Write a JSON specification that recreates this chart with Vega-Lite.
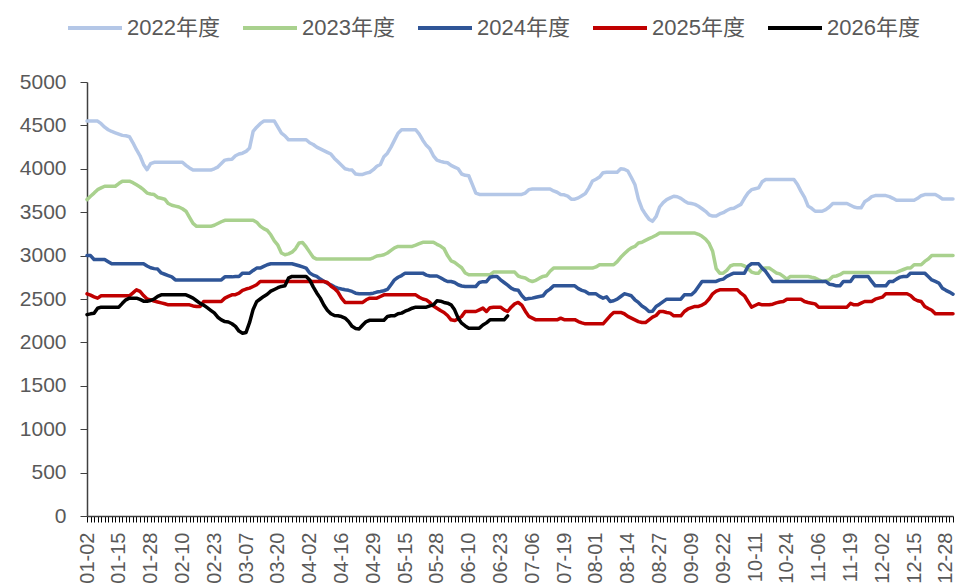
{
"$schema": "https://vega.github.io/schema/vega-lite/v6.json",
"width": 866, "height": 434,
"autosize": "none",
"padding": {"left": 87, "top": 82, "right": 7, "bottom": 71},
"background": "white",
"config": {"view": {"stroke": null}, "font": "Liberation Sans"},
"data": {"values": [
{"d":"01-02","2022年度":4550,"2023年度":3645,"2024年度":3000,"2025年度":2560,"2026年度":2320},
{"d":"01-03","2022年度":4550,"2023年度":3684,"2024年度":3000,"2025年度":2545,"2026年度":2329},
{"d":"01-06","2022年度":4550,"2023年度":3720,"2024年度":2955,"2025年度":2525,"2026年度":2335},
{"d":"01-07","2022年度":4550,"2023年度":3760,"2024年度":2955,"2025年度":2510,"2026年度":2394},
{"d":"01-08","2022年度":4520,"2023年度":3780,"2024年度":2955,"2025年度":2537,"2026年度":2406},
{"d":"01-09","2022年度":4480,"2023年度":3799,"2024年度":2955,"2025年度":2537,"2026年度":2406},
{"d":"01-10","2022年度":4450,"2023年度":3799,"2024年度":2930,"2025年度":2537,"2026年度":2406},
{"d":"01-13","2022年度":4430,"2023年度":3799,"2024年度":2905,"2025年度":2537,"2026年度":2406},
{"d":"01-14","2022年度":4415,"2023年度":3799,"2024年度":2905,"2025年度":2537,"2026年度":2406},
{"d":"01-15","2022年度":4400,"2023年度":3830,"2024年度":2905,"2025年度":2537,"2026年度":2406},
{"d":"01-16","2022年度":4385,"2023年度":3857,"2024年度":2905,"2025年度":2537,"2026年度":2450},
{"d":"01-17","2022年度":4380,"2023年度":3857,"2024年度":2905,"2025年度":2537,"2026年度":2490},
{"d":"01-20","2022年度":4370,"2023年度":3857,"2024年度":2905,"2025年度":2537,"2026年度":2510},
{"d":"01-21","2022年度":4300,"2023年度":3840,"2024年度":2905,"2025年度":2570,"2026年度":2510},
{"d":"01-22","2022年度":4220,"2023年度":3815,"2024年度":2905,"2025年度":2606,"2026年度":2510},
{"d":"01-23","2022年度":4150,"2023年度":3790,"2024年度":2905,"2025年度":2587,"2026年度":2495},
{"d":"01-24","2022年度":4050,"2023年度":3760,"2024年度":2905,"2025年度":2540,"2026年度":2475},
{"d":"01-27","2022年度":3990,"2023年度":3720,"2024年度":2880,"2025年度":2500,"2026年度":2475},
{"d":"01-28","2022年度":4060,"2023年度":3710,"2024年度":2860,"2025年度":2490,"2026年度":2483},
{"d":"01-29","2022年度":4075,"2023年度":3703,"2024年度":2850,"2025年度":2475,"2026年度":2500},
{"d":"01-30","2022年度":4075,"2023年度":3670,"2024年度":2845,"2025年度":2465,"2026年度":2530},
{"d":"01-31","2022年度":4075,"2023年度":3660,"2024年度":2800,"2025年度":2455,"2026年度":2548},
{"d":"02-03","2022年度":4075,"2023年度":3650,"2024年度":2785,"2025年度":2445,"2026年度":2548},
{"d":"02-04","2022年度":4075,"2023年度":3600,"2024年度":2770,"2025年度":2433,"2026年度":2548},
{"d":"02-05","2022年度":4075,"2023年度":3580,"2024年度":2755,"2025年度":2433,"2026年度":2548},
{"d":"02-06","2022年度":4075,"2023年度":3570,"2024年度":2720,"2025年度":2433,"2026年度":2548},
{"d":"02-07","2022年度":4075,"2023年度":3560,"2024年度":2720,"2025年度":2433,"2026年度":2548},
{"d":"02-10","2022年度":4075,"2023年度":3540,"2024年度":2720,"2025年度":2433,"2026年度":2548},
{"d":"02-11","2022年度":4040,"2023年度":3511,"2024年度":2720,"2025年度":2433,"2026年度":2548},
{"d":"02-12","2022年度":4010,"2023年度":3440,"2024年度":2720,"2025年度":2433,"2026年度":2530},
{"d":"02-13","2022年度":3985,"2023年度":3370,"2024年度":2720,"2025年度":2420,"2026年度":2510},
{"d":"02-14","2022年度":3985,"2023年度":3337,"2024年度":2720,"2025年度":2414,"2026年度":2480},
{"d":"02-17","2022年度":3985,"2023年度":3337,"2024年度":2720,"2025年度":2414,"2026年度":2450},
{"d":"02-18","2022年度":3985,"2023年度":3337,"2024年度":2720,"2025年度":2471,"2026年度":2430},
{"d":"02-19","2022年度":3985,"2023年度":3337,"2024年度":2720,"2025年度":2471,"2026年度":2400},
{"d":"02-20","2022年度":3985,"2023年度":3337,"2024年度":2720,"2025年度":2471,"2026年度":2370},
{"d":"02-23","2022年度":4000,"2023年度":3350,"2024年度":2720,"2025年度":2471,"2026年度":2340},
{"d":"02-24","2022年度":4020,"2023年度":3370,"2024年度":2720,"2025年度":2471,"2026年度":2290},
{"d":"02-25","2022年度":4060,"2023年度":3390,"2024年度":2720,"2025年度":2471,"2026年度":2260},
{"d":"02-26","2022年度":4100,"2023年度":3407,"2024年度":2755,"2025年度":2510,"2026年度":2240},
{"d":"02-27","2022年度":4107,"2023年度":3407,"2024年度":2755,"2025年度":2530,"2026年度":2235},
{"d":"02-28","2022年度":4110,"2023年度":3407,"2024年度":2755,"2025年度":2548,"2026年度":2215},
{"d":"03-03","2022年度":4150,"2023年度":3407,"2024年度":2760,"2025年度":2550,"2026年度":2185},
{"d":"03-04","2022年度":4170,"2023年度":3407,"2024年度":2760,"2025年度":2567,"2026年度":2130},
{"d":"03-05","2022年度":4180,"2023年度":3407,"2024年度":2798,"2025年度":2600,"2026年度":2106},
{"d":"03-07","2022年度":4200,"2023年度":3407,"2024年度":2798,"2025年度":2615,"2026年度":2115},
{"d":"03-10","2022年度":4240,"2023年度":3407,"2024年度":2798,"2025年度":2625,"2026年度":2230},
{"d":"03-11","2022年度":4430,"2023年度":3407,"2024年度":2829,"2025年度":2644,"2026年度":2380},
{"d":"03-12","2022年度":4480,"2023年度":3385,"2024年度":2856,"2025年度":2664,"2026年度":2470},
{"d":"03-13","2022年度":4520,"2023年度":3340,"2024年度":2856,"2025年度":2702,"2026年度":2500},
{"d":"03-14","2022年度":4550,"2023年度":3310,"2024年度":2875,"2025年度":2702,"2026年度":2530},
{"d":"03-17","2022年度":4550,"2023年度":3290,"2024年度":2895,"2025年度":2702,"2026年度":2555},
{"d":"03-18","2022年度":4550,"2023年度":3240,"2024年度":2906,"2025年度":2702,"2026年度":2590},
{"d":"03-19","2022年度":4550,"2023年度":3170,"2024年度":2906,"2025年度":2702,"2026年度":2610},
{"d":"03-20","2022年度":4480,"2023年度":3120,"2024年度":2906,"2025年度":2702,"2026年度":2630},
{"d":"03-21","2022年度":4410,"2023年度":3030,"2024年度":2906,"2025年度":2702,"2026年度":2645},
{"d":"03-24","2022年度":4380,"2023年度":3010,"2024年度":2906,"2025年度":2702,"2026年度":2652},
{"d":"03-25","2022年度":4335,"2023年度":3020,"2024年度":2906,"2025年度":2702,"2026年度":2740},
{"d":"03-26","2022年度":4335,"2023年度":3040,"2024年度":2906,"2025年度":2702,"2026年度":2760},
{"d":"03-27","2022年度":4335,"2023年度":3080,"2024年度":2895,"2025年度":2702,"2026年度":2760},
{"d":"03-28","2022年度":4335,"2023年度":3145,"2024年度":2883,"2025年度":2702,"2026年度":2760},
{"d":"03-31","2022年度":4335,"2023年度":3150,"2024年度":2870,"2025年度":2702,"2026年度":2760},
{"d":"04-01","2022年度":4335,"2023年度":3100,"2024年度":2856,"2025年度":2702,"2026年度":2760},
{"d":"04-02","2022年度":4300,"2023年度":3040,"2024年度":2800,"2025年度":2702,"2026年度":2720},
{"d":"04-03","2022年度":4280,"2023年度":2980,"2024年度":2775,"2025年度":2702,"2026年度":2640},
{"d":"04-07","2022年度":4250,"2023年度":2960,"2024年度":2760,"2025年度":2702,"2026年度":2570},
{"d":"04-08","2022年度":4230,"2023年度":2960,"2024年度":2730,"2025年度":2702,"2026年度":2510},
{"d":"04-09","2022年度":4210,"2023年度":2960,"2024年度":2705,"2025年度":2702,"2026年度":2430},
{"d":"04-10","2022年度":4190,"2023年度":2960,"2024年度":2680,"2025年度":2690,"2026年度":2370},
{"d":"04-11","2022年度":4170,"2023年度":2960,"2024年度":2664,"2025年度":2650,"2026年度":2330},
{"d":"04-14","2022年度":4120,"2023年度":2960,"2024年度":2640,"2025年度":2620,"2026年度":2310},
{"d":"04-15","2022年度":4080,"2023年度":2960,"2024年度":2625,"2025年度":2580,"2026年度":2306},
{"d":"04-16","2022年度":4040,"2023年度":2960,"2024年度":2615,"2025年度":2510,"2026年度":2298},
{"d":"04-17","2022年度":4000,"2023年度":2960,"2024年度":2606,"2025年度":2460,"2026年度":2280},
{"d":"04-18","2022年度":3990,"2023年度":2960,"2024年度":2600,"2025年度":2460,"2026年度":2240},
{"d":"04-21","2022年度":3985,"2023年度":2960,"2024年度":2587,"2025年度":2460,"2026年度":2185},
{"d":"04-22","2022年度":3940,"2023年度":2960,"2024年度":2567,"2025年度":2460,"2026年度":2160},
{"d":"04-23","2022年度":3935,"2023年度":2960,"2024年度":2560,"2025年度":2460,"2026年度":2155},
{"d":"04-24","2022年度":3935,"2023年度":2960,"2024年度":2560,"2025年度":2460,"2026年度":2200},
{"d":"04-25","2022年度":3950,"2023年度":2960,"2024年度":2560,"2025年度":2491,"2026年度":2240},
{"d":"04-28","2022年度":3960,"2023年度":2960,"2024年度":2560,"2025年度":2510,"2026年度":2255},
{"d":"04-29","2022年度":3990,"2023年度":2975,"2024年度":2567,"2025年度":2510,"2026年度":2255},
{"d":"04-30","2022年度":4030,"2023年度":2995,"2024年度":2580,"2025年度":2510,"2026年度":2255},
{"d":"05-06","2022年度":4050,"2023年度":3000,"2024年度":2587,"2025年度":2529,"2026年度":2255},
{"d":"05-07","2022年度":4140,"2023年度":3010,"2024年度":2595,"2025年度":2548,"2026年度":2255},
{"d":"05-08","2022年度":4180,"2023年度":3030,"2024年度":2610,"2025年度":2548,"2026年度":2298},
{"d":"05-09","2022年度":4250,"2023年度":3060,"2024年度":2664,"2025年度":2548,"2026年度":2306},
{"d":"05-12","2022年度":4330,"2023年度":3090,"2024年度":2721,"2025年度":2548,"2026年度":2306},
{"d":"05-13","2022年度":4410,"2023年度":3106,"2024年度":2750,"2025年度":2548,"2026年度":2330},
{"d":"05-14","2022年度":4450,"2023年度":3106,"2024年度":2770,"2025年度":2548,"2026年度":2337},
{"d":"05-15","2022年度":4450,"2023年度":3106,"2024年度":2798,"2025年度":2548,"2026年度":2360},
{"d":"05-16","2022年度":4450,"2023年度":3106,"2024年度":2798,"2025年度":2548,"2026年度":2375},
{"d":"05-19","2022年度":4450,"2023年度":3106,"2024年度":2798,"2025年度":2548,"2026年度":2394},
{"d":"05-20","2022年度":4450,"2023年度":3120,"2024年度":2798,"2025年度":2548,"2026年度":2406},
{"d":"05-21","2022年度":4400,"2023年度":3137,"2024年度":2798,"2025年度":2520,"2026年度":2406},
{"d":"05-22","2022年度":4330,"2023年度":3153,"2024年度":2798,"2025年度":2500,"2026年度":2406},
{"d":"05-23","2022年度":4270,"2023年度":3153,"2024年度":2775,"2025年度":2490,"2026年度":2406},
{"d":"05-26","2022年度":4230,"2023年度":3153,"2024年度":2765,"2025年度":2460,"2026年度":2420},
{"d":"05-27","2022年度":4150,"2023年度":3153,"2024年度":2765,"2025年度":2420,"2026年度":2433},
{"d":"05-28","2022年度":4100,"2023年度":3130,"2024年度":2765,"2025年度":2394,"2026年度":2479},
{"d":"05-29","2022年度":4085,"2023年度":3110,"2024年度":2745,"2025年度":2367,"2026年度":2475},
{"d":"05-30","2022年度":4075,"2023年度":3080,"2024年度":2721,"2025年度":2345,"2026年度":2460},
{"d":"06-02","2022年度":4070,"2023年度":3000,"2024年度":2702,"2025年度":2310,"2026年度":2452},
{"d":"06-03","2022年度":4040,"2023年度":2940,"2024年度":2702,"2025年度":2260,"2026年度":2433},
{"d":"06-04","2022年度":4020,"2023年度":2922,"2024年度":2690,"2025年度":2252,"2026年度":2375},
{"d":"06-05","2022年度":4000,"2023年度":2890,"2024年度":2664,"2025年度":2270,"2026年度":2279},
{"d":"06-06","2022年度":3940,"2023年度":2860,"2024年度":2650,"2025年度":2300,"2026年度":2221},
{"d":"06-09","2022年度":3925,"2023年度":2800,"2024年度":2644,"2025年度":2356,"2026年度":2190},
{"d":"06-10","2022年度":3920,"2023年度":2779,"2024年度":2644,"2025年度":2356,"2026年度":2164},
{"d":"06-11","2022年度":3820,"2023年度":2779,"2024年度":2644,"2025年度":2356,"2026年度":2164},
{"d":"06-12","2022年度":3720,"2023年度":2779,"2024年度":2644,"2025年度":2356,"2026年度":2164},
{"d":"06-13","2022年度":3705,"2023年度":2779,"2024年度":2691,"2025年度":2375,"2026年度":2164},
{"d":"06-16","2022年度":3705,"2023年度":2779,"2024年度":2700,"2025年度":2395,"2026年度":2200},
{"d":"06-17","2022年度":3705,"2023年度":2779,"2024年度":2700,"2025年度":2356,"2026年度":2225},
{"d":"06-18","2022年度":3705,"2023年度":2779,"2024年度":2750,"2025年度":2400,"2026年度":2260},
{"d":"06-19","2022年度":3705,"2023年度":2810,"2024年度":2760,"2025年度":2406,"2026年度":2260},
{"d":"06-20","2022年度":3705,"2023年度":2810,"2024年度":2760,"2025年度":2406,"2026年度":2260},
{"d":"06-23","2022年度":3705,"2023年度":2810,"2024年度":2721,"2025年度":2406,"2026年度":2260},
{"d":"06-24","2022年度":3705,"2023年度":2810,"2024年度":2690,"2025年度":2375,"2026年度":2260},
{"d":"06-25","2022年度":3705,"2023年度":2810,"2024年度":2660,"2025年度":2356,"2026年度":2306},
{"d":"06-26","2022年度":3705,"2023年度":2810,"2024年度":2625,"2025年度":2406},
{"d":"06-27","2022年度":3705,"2023年度":2810,"2024年度":2606,"2025年度":2444},
{"d":"06-30","2022年度":3705,"2023年度":2765,"2024年度":2600,"2025年度":2460},
{"d":"07-01","2022年度":3705,"2023年度":2750,"2024年度":2540,"2025年度":2430},
{"d":"07-02","2022年度":3720,"2023年度":2741,"2024年度":2498,"2025年度":2360},
{"d":"07-03","2022年度":3760,"2023年度":2715,"2024年度":2505,"2025年度":2300},
{"d":"07-06","2022年度":3768,"2023年度":2702,"2024年度":2510,"2025年度":2280},
{"d":"07-07","2022年度":3768,"2023年度":2715,"2024年度":2520,"2025年度":2260},
{"d":"07-08","2022年度":3768,"2023年度":2740,"2024年度":2529,"2025年度":2260},
{"d":"07-09","2022年度":3768,"2023年度":2760,"2024年度":2537,"2025年度":2260},
{"d":"07-10","2022年度":3768,"2023年度":2768,"2024年度":2587,"2025年度":2260},
{"d":"07-11","2022年度":3768,"2023年度":2820,"2024年度":2614,"2025年度":2260},
{"d":"07-14","2022年度":3745,"2023年度":2856,"2024年度":2652,"2025年度":2260},
{"d":"07-15","2022年度":3730,"2023年度":2856,"2024年度":2652,"2025年度":2260},
{"d":"07-16","2022年度":3705,"2023年度":2856,"2024年度":2652,"2025年度":2279},
{"d":"07-19","2022年度":3700,"2023年度":2856,"2024年度":2652,"2025年度":2262},
{"d":"07-21","2022年度":3685,"2023年度":2856,"2024年度":2652,"2025年度":2262},
{"d":"07-22","2022年度":3650,"2023年度":2856,"2024年度":2652,"2025年度":2262},
{"d":"07-23","2022年度":3650,"2023年度":2856,"2024年度":2652,"2025年度":2262},
{"d":"07-24","2022年度":3665,"2023年度":2856,"2024年度":2620,"2025年度":2240},
{"d":"07-25","2022年度":3690,"2023年度":2856,"2024年度":2600,"2025年度":2225},
{"d":"07-28","2022年度":3715,"2023年度":2856,"2024年度":2587,"2025年度":2214},
{"d":"07-29","2022年度":3780,"2023年度":2856,"2024年度":2560,"2025年度":2214},
{"d":"07-30","2022年度":3860,"2023年度":2856,"2024年度":2560,"2025年度":2214},
{"d":"08-01","2022年度":3880,"2023年度":2870,"2024年度":2560,"2025年度":2214},
{"d":"08-04","2022年度":3905,"2023年度":2895,"2024年度":2530,"2025年度":2214},
{"d":"08-05","2022年度":3955,"2023年度":2895,"2024年度":2510,"2025年度":2214},
{"d":"08-06","2022年度":3960,"2023年度":2895,"2024年度":2525,"2025年度":2260},
{"d":"08-07","2022年度":3960,"2023年度":2895,"2024年度":2471,"2025年度":2306},
{"d":"08-08","2022年度":3960,"2023年度":2895,"2024年度":2480,"2025年度":2345},
{"d":"08-11","2022年度":3960,"2023年度":2930,"2024年度":2498,"2025年度":2345},
{"d":"08-12","2022年度":4000,"2023年度":2980,"2024年度":2529,"2025年度":2345},
{"d":"08-13","2022年度":3995,"2023年度":3020,"2024年度":2560,"2025年度":2330},
{"d":"08-14","2022年度":3975,"2023年度":3060,"2024年度":2550,"2025年度":2300},
{"d":"08-15","2022年度":3900,"2023年度":3090,"2024年度":2537,"2025年度":2280},
{"d":"08-18","2022年度":3820,"2023年度":3106,"2024年度":2491,"2025年度":2260},
{"d":"08-19","2022年度":3650,"2023年度":3145,"2024年度":2460,"2025年度":2240},
{"d":"08-20","2022年度":3540,"2023年度":3153,"2024年度":2420,"2025年度":2229},
{"d":"08-21","2022年度":3475,"2023年度":3175,"2024年度":2394,"2025年度":2229},
{"d":"08-22","2022年度":3420,"2023年度":3195,"2024年度":2356,"2025年度":2260},
{"d":"08-25","2022年度":3395,"2023年度":3214,"2024年度":2360,"2025年度":2291},
{"d":"08-26","2022年度":3450,"2023年度":3235,"2024年度":2414,"2025年度":2310},
{"d":"08-27","2022年度":3560,"2023年度":3260,"2024年度":2440,"2025年度":2356},
{"d":"08-28","2022年度":3610,"2023年度":3260,"2024年度":2470,"2025年度":2356},
{"d":"08-29","2022年度":3645,"2023年度":3260,"2024年度":2498,"2025年度":2345},
{"d":"09-01","2022年度":3665,"2023年度":3260,"2024年度":2498,"2025年度":2337},
{"d":"09-02","2022年度":3684,"2023年度":3260,"2024年度":2498,"2025年度":2306},
{"d":"09-03","2022年度":3678,"2023年度":3260,"2024年度":2498,"2025年度":2306},
{"d":"09-04","2022年度":3660,"2023年度":3260,"2024年度":2498,"2025年度":2306},
{"d":"09-05","2022年度":3630,"2023年度":3260,"2024年度":2548,"2025年度":2356},
{"d":"09-08","2022年度":3607,"2023年度":3260,"2024年度":2548,"2025年度":2385},
{"d":"09-09","2022年度":3600,"2023年度":3260,"2024年度":2548,"2025年度":2400},
{"d":"09-10","2022年度":3590,"2023年度":3260,"2024年度":2587,"2025年度":2414},
{"d":"09-11","2022年度":3568,"2023年度":3245,"2024年度":2644,"2025年度":2414},
{"d":"09-12","2022年度":3540,"2023年度":3222,"2024年度":2702,"2025年度":2430},
{"d":"09-15","2022年度":3510,"2023年度":3190,"2024年度":2702,"2025年度":2455},
{"d":"09-16","2022年度":3470,"2023年度":3140,"2024年度":2702,"2025年度":2500},
{"d":"09-17","2022年度":3455,"2023年度":3050,"2024年度":2702,"2025年度":2560},
{"d":"09-18","2022年度":3455,"2023年度":2850,"2024年度":2702,"2025年度":2590},
{"d":"09-19","2022年度":3480,"2023年度":2798,"2024年度":2720,"2025年度":2606},
{"d":"09-22","2022年度":3495,"2023年度":2798,"2024年度":2729,"2025年度":2606},
{"d":"09-23","2022年度":3520,"2023年度":2830,"2024年度":2760,"2025年度":2606},
{"d":"09-24","2022年度":3540,"2023年度":2880,"2024年度":2780,"2025年度":2606},
{"d":"09-25","2022年度":3545,"2023年度":2895,"2024年度":2798,"2025年度":2606},
{"d":"09-26","2022年度":3568,"2023年度":2895,"2024年度":2798,"2025年度":2606},
{"d":"09-29","2022年度":3590,"2023年度":2895,"2024年度":2798,"2025年度":2567},
{"d":"09-30","2022年度":3660,"2023年度":2880,"2024年度":2798,"2025年度":2537},
{"d":"10-09","2022年度":3720,"2023年度":2850,"2024年度":2875,"2025年度":2471},
{"d":"10-10","2022年度":3760,"2023年度":2810,"2024年度":2906,"2025年度":2406},
{"d":"10-11","2022年度":3770,"2023年度":2798,"2024年度":2906,"2025年度":2425},
{"d":"10-13","2022年度":3780,"2023年度":2798,"2024年度":2906,"2025年度":2445},
{"d":"10-14","2022年度":3850,"2023年度":2850,"2024年度":2856,"2025年度":2433},
{"d":"10-15","2022年度":3876,"2023年度":2856,"2024年度":2818,"2025年度":2433},
{"d":"10-16","2022年度":3876,"2023年度":2856,"2024年度":2760,"2025年度":2433},
{"d":"10-17","2022年度":3876,"2023年度":2830,"2024年度":2702,"2025年度":2440},
{"d":"10-20","2022年度":3876,"2023年度":2800,"2024年度":2702,"2025年度":2455},
{"d":"10-21","2022年度":3876,"2023年度":2790,"2024年度":2702,"2025年度":2465},
{"d":"10-22","2022年度":3876,"2023年度":2760,"2024年度":2702,"2025年度":2471},
{"d":"10-24","2022年度":3876,"2023年度":2730,"2024年度":2702,"2025年度":2498},
{"d":"10-27","2022年度":3876,"2023年度":2760,"2024年度":2702,"2025年度":2498},
{"d":"10-28","2022年度":3876,"2023年度":2760,"2024年度":2702,"2025年度":2498},
{"d":"10-29","2022年度":3820,"2023年度":2760,"2024年度":2702,"2025年度":2498},
{"d":"10-30","2022年度":3740,"2023年度":2760,"2024年度":2702,"2025年度":2498},
{"d":"10-31","2022年度":3670,"2023年度":2760,"2024年度":2702,"2025年度":2471},
{"d":"11-03","2022年度":3570,"2023年度":2760,"2024年度":2702,"2025年度":2460},
{"d":"11-04","2022年度":3545,"2023年度":2750,"2024年度":2702,"2025年度":2452},
{"d":"11-05","2022年度":3511,"2023年度":2741,"2024年度":2702,"2025年度":2444},
{"d":"11-06","2022年度":3511,"2023年度":2720,"2024年度":2702,"2025年度":2406},
{"d":"11-07","2022年度":3511,"2023年度":2702,"2024年度":2702,"2025年度":2406},
{"d":"11-10","2022年度":3530,"2023年度":2710,"2024年度":2702,"2025年度":2406},
{"d":"11-11","2022年度":3560,"2023年度":2721,"2024年度":2670,"2025年度":2406},
{"d":"11-12","2022年度":3600,"2023年度":2760,"2024年度":2664,"2025年度":2406},
{"d":"11-13","2022年度":3600,"2023年度":2765,"2024年度":2652,"2025年度":2406},
{"d":"11-14","2022年度":3600,"2023年度":2780,"2024年度":2652,"2025年度":2406},
{"d":"11-17","2022年度":3600,"2023年度":2806,"2024年度":2702,"2025年度":2406},
{"d":"11-18","2022年度":3600,"2023年度":2806,"2024年度":2702,"2025年度":2406},
{"d":"11-19","2022年度":3580,"2023年度":2806,"2024年度":2702,"2025年度":2450},
{"d":"11-20","2022年度":3560,"2023年度":2806,"2024年度":2760,"2025年度":2433},
{"d":"11-21","2022年度":3550,"2023年度":2806,"2024年度":2760,"2025年度":2433},
{"d":"11-24","2022年度":3550,"2023年度":2806,"2024年度":2760,"2025年度":2452},
{"d":"11-25","2022年度":3620,"2023年度":2806,"2024年度":2760,"2025年度":2471},
{"d":"11-26","2022年度":3645,"2023年度":2806,"2024年度":2760,"2025年度":2471},
{"d":"11-27","2022年度":3680,"2023年度":2806,"2024年度":2702,"2025年度":2471},
{"d":"11-28","2022年度":3691,"2023年度":2806,"2024年度":2652,"2025年度":2498},
{"d":"12-01","2022年度":3691,"2023年度":2806,"2024年度":2652,"2025年度":2510},
{"d":"12-02","2022年度":3691,"2023年度":2806,"2024年度":2652,"2025年度":2521},
{"d":"12-03","2022年度":3691,"2023年度":2806,"2024年度":2652,"2025年度":2560},
{"d":"12-04","2022年度":3680,"2023年度":2806,"2024年度":2702,"2025年度":2560},
{"d":"12-05","2022年度":3660,"2023年度":2806,"2024年度":2702,"2025年度":2560},
{"d":"12-08","2022年度":3638,"2023年度":2806,"2024年度":2729,"2025年度":2560},
{"d":"12-09","2022年度":3638,"2023年度":2825,"2024年度":2752,"2025年度":2560},
{"d":"12-10","2022年度":3638,"2023年度":2840,"2024年度":2760,"2025年度":2560},
{"d":"12-11","2022年度":3638,"2023年度":2856,"2024年度":2760,"2025年度":2560},
{"d":"12-12","2022年度":3638,"2023年度":2856,"2024年度":2798,"2025年度":2540},
{"d":"12-15","2022年度":3638,"2023年度":2895,"2024年度":2798,"2025年度":2500},
{"d":"12-16","2022年度":3660,"2023年度":2895,"2024年度":2798,"2025年度":2480},
{"d":"12-17","2022年度":3690,"2023年度":2895,"2024年度":2798,"2025年度":2471},
{"d":"12-18","2022年度":3703,"2023年度":2933,"2024年度":2798,"2025年度":2414},
{"d":"12-19","2022年度":3703,"2023年度":2960,"2024年度":2760,"2025年度":2390},
{"d":"12-22","2022年度":3703,"2023年度":3002,"2024年度":2720,"2025年度":2370},
{"d":"12-23","2022年度":3703,"2023年度":3002,"2024年度":2702,"2025年度":2329},
{"d":"12-24","2022年度":3680,"2023年度":3002,"2024年度":2683,"2025年度":2329},
{"d":"12-25","2022年度":3653,"2023年度":3002,"2024年度":2625,"2025年度":2329},
{"d":"12-28","2022年度":3653,"2023年度":3002,"2024年度":2600,"2025年度":2329},
{"d":"12-29","2022年度":3653,"2023年度":3002,"2024年度":2580,"2025年度":2329},
{"d":"12-30","2022年度":3653,"2023年度":3002,"2024年度":2556,"2025年度":2329}
]},
"transform": [
{"fold": ["2022年度","2023年度","2024年度","2025年度","2026年度"], "as": ["series","value"]},
{"filter": "isValid(datum.value)"}
],
"mark": {"type": "line", "strokeWidth": 3.5, "strokeJoin": "round", "strokeCap": "round"},
"encoding": {
"x": {"field": "d", "type": "ordinal", "sort": null, "title": null,
 "scale": {"type": "point", "padding": 0},
 "axis": {"labelAngle": -90, "labelAlign": "right", "labelBaseline": "middle", "labelFontSize": 20, "labelColor": "#595959", "labelPadding": 10, "labelOverlap": false, "tickSize": 6, "tickColor": "#000000", "tickWidth": 1, "domainColor": "#404040", "domainWidth": 1.5, "grid": false,
 "labelExpr": "indexof(['01-02','01-15','01-28','02-10','02-23','03-07','03-20','04-02','04-16','04-29','05-15','05-28','06-10','06-23','07-06','07-19','08-01','08-14','08-27','09-09','09-22','10-11','10-24','11-06','11-19','12-02','12-15','12-28'], datum.value) >= 0 ? datum.value : ''"}},
"y": {"field": "value", "type": "quantitative", "title": null,
 "scale": {"domain": [0, 5000], "nice": false, "zero": true},
 "axis": {"values": [0,500,1000,1500,2000,2500,3000,3500,4000,4500,5000], "format": "d", "grid": false, "labelFontSize": 21, "labelColor": "#595959", "labelPadding": 14, "tickSize": 7, "tickColor": "#404040", "domainColor": "#404040", "domainWidth": 1.5}},
"color": {"field": "series", "type": "nominal", "title": null,
 "scale": {"domain": ["2022年度","2023年度","2024年度","2025年度","2026年度"], "range": ["#B4C7E7","#A9D18E","#2F5597","#C00000","#000000"]},
 "legend": {"orient": "none", "direction": "horizontal", "legendX": -21, "legendY": -83, "symbolType": "stroke", "symbolSize": 2916, "symbolStrokeWidth": 4, "labelFontSize": 22, "labelColor": "#595959", "labelFont": "Liberation Sans, Noto Sans CJK SC", "labelOffset": 3, "columnPadding": 15, "columns": 5}}
}
}
